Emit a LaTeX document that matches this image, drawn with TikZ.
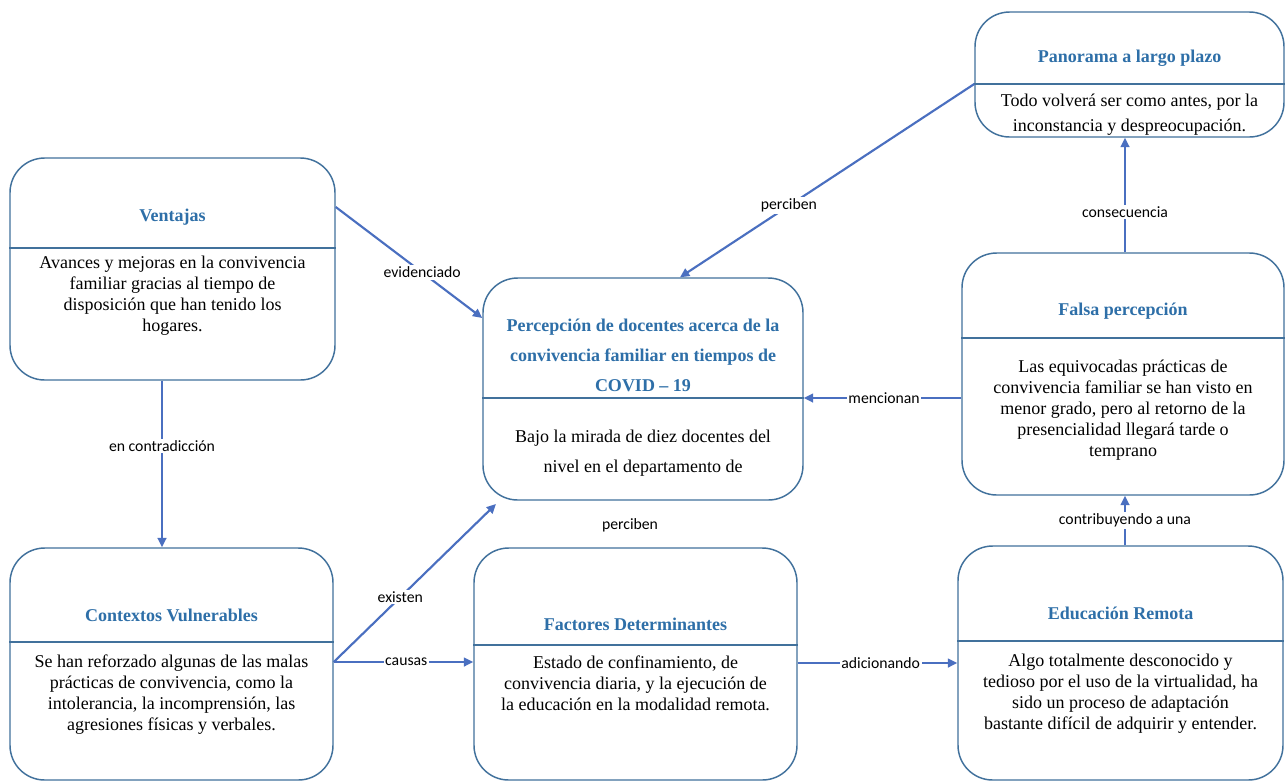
\documentclass[tikz,border=0pt]{standalone}
\usepackage{fontspec}
\setmainfont{Liberation Serif}
\newfontfamily\lblfamily{Carlito}
\usetikzlibrary{arrows.meta,fit,calc}
\definecolor{boxc}{HTML}{41719C}
\definecolor{arrc}{HTML}{4A6FC0}
\definecolor{ttlc}{HTML}{2E6FA8}
\tikzset{
  box/.style={draw=boxc, line width=1.1pt, rounded corners=26pt, inner sep=0pt},
  divline/.style={draw=boxc, line width=0.9pt},
  ttl/.style={align=center, text=ttlc, font=\fontsize{13.5}{16}\selectfont\bfseries, inner sep=0pt},
  body/.style={align=center, text=black, font=\fontsize{13.5}{15.75}\selectfont, inner sep=0pt},
  lbl/.style={font=\lblfamily\fontsize{11.8}{14}\selectfont, fill=white, inner sep=1.2pt, text=black},
  conn/.style={draw=arrc, line width=1.6pt, -{Triangle[length=7pt,width=6.5pt]}}
}
\begin{document}
\begin{tikzpicture}[x=0.75pt,y=-0.75pt]
\useasboundingbox[fill=white] (0,0) rectangle (1286,783);

% boxes
\node[box, fit={(975,12) (1284,137)}] (pan) {};
\node[box, fit={(10,158) (335,380)}] (ven) {};
\node[box, fit={(483,278) (803,500)}] (cen) {};
\node[box, fit={(962,253) (1284,495)}] (fal) {};
\node[box, fit={(10,548) (333,780)}] (con) {};
\node[box, fit={(474,548) (797,780)}] (fac) {};
\node[box, fit={(958,546) (1283,780)}] (edu) {};

% dividers
\draw[divline] (pan.west |- 0,84) -- (pan.east |- 0,84);
\draw[divline] (ven.west |- 0,248) -- (ven.east |- 0,248);
\draw[divline] (cen.west |- 0,398) -- (cen.east |- 0,398);
\draw[divline] (fal.west |- 0,338) -- (fal.east |- 0,338);
\draw[divline] (con.west |- 0,642) -- (con.east |- 0,642);
\draw[divline] (fac.west |- 0,645) -- (fac.east |- 0,645);
\draw[divline] (edu.west |- 0,641) -- (edu.east |- 0,641);

% titles
\node[ttl] (panT) at (pan.center |- 0,58) {Panorama a largo plazo};
\node[ttl] (venT) at (ven.center |- 0,217) {Ventajas};
\node[ttl, font=\fontsize{13.5}{22.5}\selectfont\bfseries] (cenT) at (cen.center |- 0,355) {Percepción de docentes acerca de la\\convivencia familiar en tiempos de\\COVID – 19};
\node[ttl] (falT) at (fal.center |- 0,311) {Falsa percepción};
\node[ttl] (conT) at (con.center |- 0,615) {Contextos Vulnerables};
\node[ttl] (facT) at (fac.center |- 0,624) {Factores Determinantes};
\node[ttl] (eduT) at (edu.center |- 0,613) {Educación Remota};

% bodies
\node[body, font=\fontsize{13.5}{18.75}\selectfont] (panB) at (pan.center |- 0,115) {Todo volverá ser como antes, por la\\inconstancia y despreocupación.};
\node[body] (venB) at (ven.center |- 0,296) {Avances y mejoras en la convivencia\\familiar gracias al tiempo de\\disposición que han tenido los\\hogares.};
\node[body, font=\fontsize{13.5}{23}\selectfont] (cenB) at (cen.center |- 0,453) {Bajo la mirada de diez docentes del\\nivel en el departamento de};
\node[body] (falB) at (fal.center |- 0,410) {Las equivocadas prácticas de\\convivencia familiar se han visto en\\menor grado, pero al retorno de la\\presencialidad llegará tarde o\\temprano};
\node[body] (conB) at (con.center |- 0,695) {Se han reforzado algunas de las malas\\prácticas de convivencia, como la\\intolerancia, la incomprensión, las\\agresiones físicas y verbales.};
\node[body] (facB) at (fac.center |- 0,683) {Estado de confinamiento, de\\convivencia diaria, y la ejecución de\\la educación en la modalidad remota.};
\node[body] (eduB) at (edu.center |- 0,694) {Algo totalmente desconocido y\\tedioso por el uso de la virtualidad, ha\\sido un proceso de adaptación\\bastante difícil de adquirir y entender.};

% connectors
\coordinate (exend) at (496,504);
\draw[conn] (pan.west |- 0,84) -- node[lbl, pos=0.63] {perciben} (cen.north -| 680,0);
\draw[conn] (ven.east |- 0,207) -- node[lbl, pos=0.59] {evidenciado} (cen.west |- 0,318);
\draw[conn] (ven.south -| 162,0) -- node[lbl, pos=0.39] {en contradicción} (con.north -| 162,0);
\draw[conn] (con.east |- 0,662) -- node[lbl, pos=0.41] {existen} (exend);
\draw[conn] (con.east |- 0,662) -- node[lbl, pos=0.52] {causas} (fac.west |- 0,662);
\draw[conn] (fal.west |- 0,398) -- node[lbl, pos=0.49] {mencionan} (cen.east |- 0,398);
\draw[conn] (fac.east |- 0,663) -- node[lbl, pos=0.52] {adicionando} (edu.west |- 0,663);
\draw[conn] (edu.north -| 1125,0) -- node[lbl, pos=0.5] {contribuyendo a una} (fal.south -| 1125,0);
\draw[conn] (fal.north -| 1125,0) -- node[lbl, pos=0.35] {consecuencia} (pan.south -| 1125,0);

\node[lbl] (perc2) at (630,525) {perciben};
\end{tikzpicture}
\end{document}
